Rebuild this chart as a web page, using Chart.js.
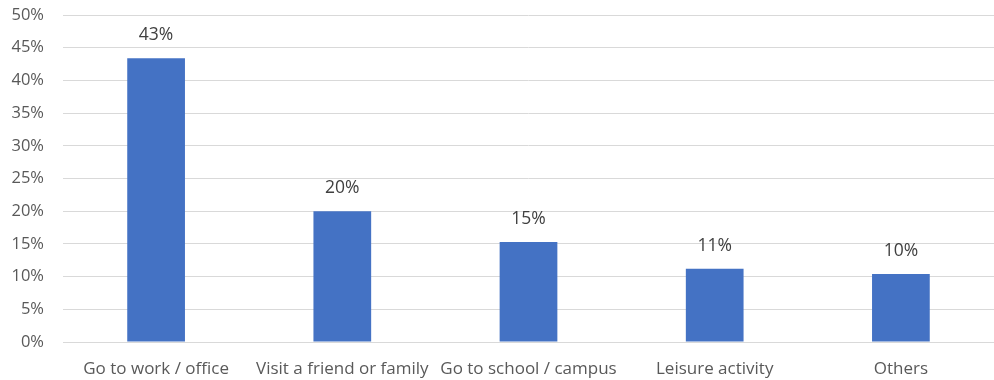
<!DOCTYPE html>
<html>
<head>
<meta charset="utf-8">
<script src="https://cdn.jsdelivr.net/npm/chart.js@4.4.1/dist/chart.umd.min.js"></script>
<style>
  html, body { margin: 0; padding: 0; background: #fff; }
  canvas { display: block; }
</style>
</head>
<body>
<canvas id="myChart" width="994" height="380"></canvas>
<script>
const categories = ['Go to work / office', 'Visit a friend or family', 'Go to school / campus', 'Leisure activity', 'Others'];
const shares = [43.4, 20.0, 15.3, 11.2, 10.4];
const yTicks = [0, 5, 10, 15, 20, 25, 30, 35, 40, 45, 50];

const FONT = "'Open Sans', 'Liberation Sans', sans-serif";

// etiquetas encima de las barras
const barLabels = {
  id: 'barLabels',
  afterDatasetsDraw(chart) {
    const c = chart.ctx;
    const meta = chart.getDatasetMeta(0);
    c.save();
    c.font = '17.5px ' + FONT;
    c.fillStyle = '#404040';
    c.textAlign = 'center';
    c.textBaseline = 'middle';
    meta.data.forEach((bar, i) => {
      c.fillText(Math.round(shares[i]) + '%', bar.x, bar.y - 23);
    });
    c.restore();
  }
};

new Chart(document.getElementById('myChart'), {
  type: 'bar',
  data: {
    labels: categories,
    datasets: [{
      data: shares,
      backgroundColor: '#4472C4',
      borderWidth: 0,
      barPercentage: 0.31,
      categoryPercentage: 1
    }]
  },
  options: {
    responsive: false,
    animation: false,
    layout: { padding: { top: 0, right: 0, bottom: 0, left: 0 } },
    plugins: { legend: { display: false }, tooltip: { enabled: false } },
    scales: {
      y: {
        min: 0,
        max: 50,
        afterBuildTicks(axis) { axis.ticks = yTicks.map(v => ({ value: v })); },
        afterFit(axis) { axis.width = 63; axis.paddingTop = 15; },
        ticks: {
          callback: v => v + '%',
          color: '#595959',
          font: { family: FONT, size: 16.5 },
          padding: 19
        },
        grid: { color: '#d9d9d9', lineWidth: 1, drawTicks: false },
        border: { display: false }
      },
      x: {
        afterFit(axis) { axis.height = 38; },
        ticks: {
          color: '#595959',
          font: { family: FONT, size: 17 },
          padding: 9,
          maxRotation: 0
        },
        grid: { display: false },
        border: { color: '#d9d9d9', width: 1 }
      }
    }
  },
  plugins: [barLabels]
});
</script>
</body>
</html>
